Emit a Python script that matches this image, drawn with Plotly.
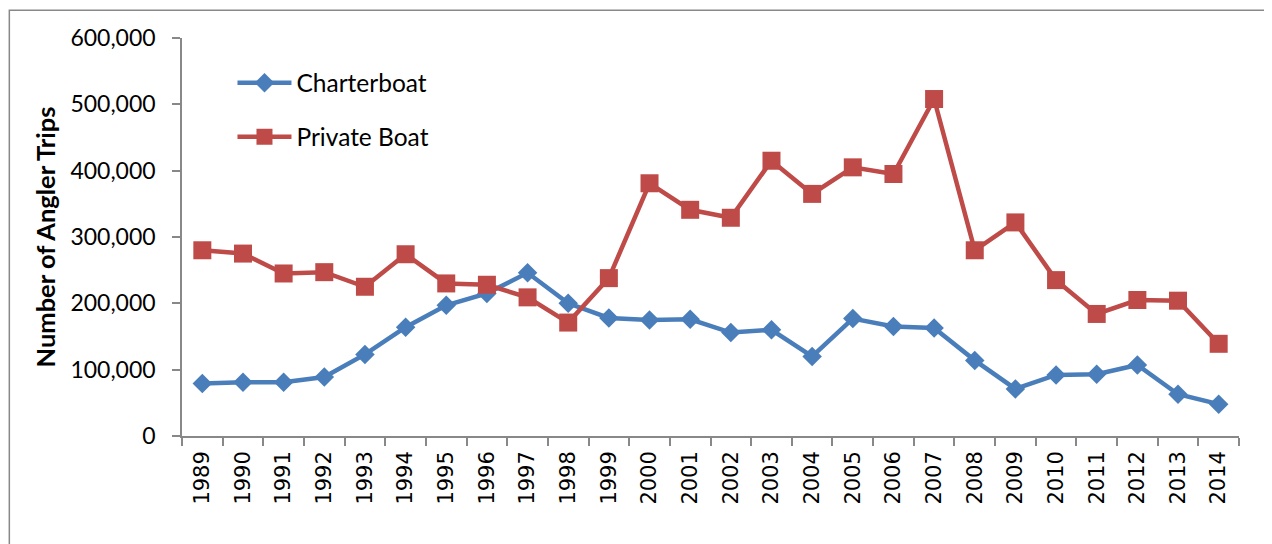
import plotly.graph_objects as go

years = [str(y) for y in range(1989, 2015)]
charterboat = [79000, 81000, 81000, 89000, 123000, 164000, 197000, 215000, 246000, 200000,
               178000, 175000, 176000, 156000, 160000, 120000, 177000, 165000, 163000, 114000,
               71000, 92000, 93000, 107000, 63000, 48000]
private_boat = [280000, 275000, 245000, 247000, 225000, 274000, 230000, 228000, 209000, 171000,
                238000, 381000, 341000, 329000, 415000, 365000, 405000, 395000, 508000, 280000,
                322000, 235000, 184000, 205000, 204000, 139000]
y_ticks = [0, 100000, 200000, 300000, 400000, 500000, 600000]

BLUE = "#4A7EBB"
RED = "#BE4B48"
AXIS = "#888888"

# page offset of the figure div (default body margin)
OFF = 8
W, H = 1264, 536
# plot area in reference (page) pixels
PL, PR, PT, PB = 181.5, 1239, 38.3, 436
L = PL - OFF
R = W - (PR - OFF)
T = PT - OFF
B = H - (PB - OFF)
pw = PR - PL
ph = PB - PT


def px_x(px):
    return (px - PL) / pw


def px_y(py):
    return (PB - py) / ph


fig = go.Figure()
fig.add_trace(go.Scatter(
    x=years, y=charterboat, name="Charterboat", mode="lines+markers",
    line=dict(color=BLUE, width=4.5),
    marker=dict(symbol="diamond", size=15, color=BLUE),
    legend="legend",
))
fig.add_trace(go.Scatter(
    x=years, y=private_boat, name="Private Boat", mode="lines+markers",
    line=dict(color=RED, width=4.5),
    marker=dict(symbol="square", size=18, color=RED),
    legend="legend2",
))

legend_common = dict(
    font=dict(family="Lato, sans-serif", size=24.5, color="#000000"),
    bgcolor="rgba(0,0,0,0)", xanchor="left", yanchor="middle",
    itemwidth=54, tracegroupgap=0,
)

fig.update_layout(
    width=W, height=H,
    margin=dict(l=L, r=R, t=T, b=B, pad=0, autoexpand=False),
    paper_bgcolor="white", plot_bgcolor="white",
    showlegend=True,
    legend=dict(x=px_x(232), y=px_y(83), **legend_common),
    legend2=dict(x=px_x(232), y=px_y(137), **legend_common),
    xaxis=dict(
        type="category", range=[-0.5, 25.5],
        showline=True, linecolor=AXIS, linewidth=1.5,
        ticks="outside", tickson="boundaries", ticklen=8, tickcolor=AXIS, tickwidth=1.5,
        tickangle=-90, showgrid=False, zeroline=False,
        tickfont=dict(family="DejaVu Sans, sans-serif", size=21, color="#000000"),
        ticklabelstandoff=5, automargin=False,
    ),
    yaxis=dict(
        range=[0, 600000], tickvals=y_ticks, tickformat=",",
        showline=True, linecolor=AXIS, linewidth=1.5,
        ticks="outside", ticklen=8, tickcolor=AXIS, tickwidth=1.5,
        showgrid=False, zeroline=False,
        tickfont=dict(family="Lato, sans-serif", size=23, color="#000000"),
        ticklabelstandoff=12, automargin=False,
        title=dict(text="<b>Number of Angler Trips</b>", standoff=7,
                   font=dict(family="Lato, sans-serif", size=25.5, color="#000000")),
    ),
    shapes=[dict(
        type="rect", xref="paper", yref="paper",
        x0=px_x(8.75), x1=px_x(1290), y0=px_y(10.5), y1=px_y(570),
        line=dict(color=AXIS, width=1.5), fillcolor="rgba(0,0,0,0)", layer="below",
    )],
)

fig.write_html("out.html")
